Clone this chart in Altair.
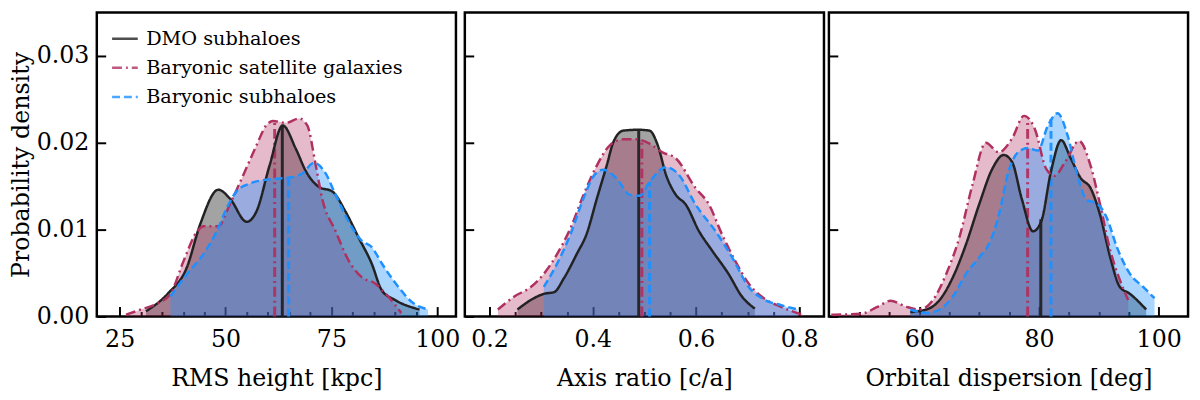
import altair as alt
import pandas as pd
import json

FONT = "DejaVu Serif"
SERIES = ["DMO subhaloes", "Baryonic satellite galaxies", "Baryonic subhaloes"]
LINE_COLORS = ["#222222", "#b03060", "#1e90ff"]
FILL_COLORS = ["#000000", "#b03060", "#1e90ff"]
FILL_OPACITY = [0.36, 0.33, 0.38]
DASHES = [[1, 0], [10, 4, 2, 4], [8, 4]]

# ---------------- Panel 1: RMS height [kpc] ----------------
dmo_rms_x = [31.2, 36.3, 40.9, 44.0, 48.3, 51.0, 55.0, 57.3, 60.4, 63.5, 66.6, 69.0, 72.1, 75.2, 78.3, 81.4, 84.5, 86.9, 90.0, 95.8]
dmo_rms_y = [0.0006, 0.0026, 0.0057, 0.0106, 0.0146, 0.0136, 0.0109, 0.0121, 0.0174, 0.0220, 0.0193, 0.0167, 0.0149, 0.0144, 0.0121, 0.0091, 0.0061, 0.0030, 0.0019, 0.0008]
sat_rms_x = [26.5, 30.0, 33.9, 37.0, 40.1, 43.3, 44.8, 48.3, 51.0, 54.2, 57.3, 59.6, 61.2, 64.3, 67.4, 69.3, 71.3, 72.8, 76.0, 79.1, 82.2, 85.3, 88.4, 91.5]
sat_rms_y = [0.0002, 0.0008, 0.0015, 0.0026, 0.0064, 0.0098, 0.0104, 0.0104, 0.0129, 0.0163, 0.0197, 0.0220, 0.0225, 0.0223, 0.0228, 0.0220, 0.0174, 0.0136, 0.0098, 0.0064, 0.0045, 0.0038, 0.0023, 0.0004]
bar_rms_x = [37.0, 40.9, 44.8, 47.9, 50.3, 52.6, 55.7, 60.4, 65.1, 68.2, 70.9, 73.6, 76.0, 79.9, 82.2, 84.5, 86.9, 90.8, 93.9, 97.8]
bar_rms_y = [0.0023, 0.0049, 0.0072, 0.0098, 0.0125, 0.0144, 0.0153, 0.0158, 0.0160, 0.0165, 0.0177, 0.0165, 0.0140, 0.0102, 0.0087, 0.0080, 0.0061, 0.0034, 0.0017, 0.0008]
rms_median_x = [63.4, 61.6, 64.9]
rms_median_h = [0.0220, 0.0224, 0.0160]

# ---------------- Panel 2: Axis ratio [c/a] ----------------
dmo_ca_x = [0.254, 0.280, 0.305, 0.325, 0.344, 0.369, 0.388, 0.408, 0.427, 0.440, 0.459, 0.488, 0.510, 0.526, 0.542, 0.561, 0.580, 0.606, 0.631, 0.663, 0.689, 0.714]
dmo_ca_y = [0.0008, 0.0019, 0.0026, 0.0028, 0.0044, 0.0072, 0.0095, 0.0136, 0.0174, 0.0201, 0.0214, 0.0215, 0.0214, 0.0197, 0.0163, 0.0140, 0.0129, 0.0098, 0.0076, 0.0049, 0.0023, 0.0009]
sat_ca_x = [0.216, 0.248, 0.280, 0.305, 0.331, 0.357, 0.382, 0.408, 0.433, 0.459, 0.484, 0.510, 0.535, 0.561, 0.599, 0.625, 0.650, 0.676, 0.702, 0.727, 0.765, 0.807]
sat_ca_y = [0.0008, 0.0023, 0.0034, 0.0049, 0.0072, 0.0102, 0.0140, 0.0174, 0.0197, 0.0204, 0.0204, 0.0199, 0.0189, 0.0182, 0.0148, 0.0129, 0.0095, 0.0064, 0.0038, 0.0023, 0.0011, 0.0002]
bar_ca_x = [0.305, 0.331, 0.357, 0.382, 0.401, 0.420, 0.446, 0.472, 0.491, 0.510, 0.542, 0.567, 0.599, 0.638, 0.670, 0.702, 0.733, 0.765, 0.797]
bar_ca_y = [0.0034, 0.0061, 0.0095, 0.0136, 0.0161, 0.0169, 0.0159, 0.0140, 0.0139, 0.0155, 0.0172, 0.0163, 0.0129, 0.0098, 0.0068, 0.0034, 0.0019, 0.0013, 0.0008]
ca_median_x = [0.489, 0.495, 0.510]
ca_median_h = [0.0215, 0.0204, 0.0155]

# ---------------- Panel 3: Orbital dispersion [deg] ----------------
dmo_orb_x = [58.5, 61.2, 63.4, 65.6, 67.8, 70.0, 72.2, 74.1, 75.5, 77.1, 79.0, 80.4, 82.0, 83.7, 85.3, 87.0, 88.6, 90.2, 91.9, 93.5, 95.2, 97.9]
dmo_orb_y = [0.0005, 0.0008, 0.0019, 0.0045, 0.0083, 0.0129, 0.0170, 0.0186, 0.0178, 0.0136, 0.0098, 0.0110, 0.0167, 0.0203, 0.0182, 0.0159, 0.0148, 0.0117, 0.0068, 0.0034, 0.0026, 0.0008]
sat_orb_x = [45.3, 50.2, 53.0, 55.2, 57.9, 60.1, 62.3, 64.5, 66.7, 68.9, 71.1, 73.3, 75.5, 77.5, 79.3, 81.2, 82.6, 84.2, 86.7, 88.6, 90.2, 91.9, 93.5, 94.9]
sat_orb_y = [0.0002, 0.0003, 0.0011, 0.0018, 0.0011, 0.0008, 0.0019, 0.0049, 0.0091, 0.0152, 0.0200, 0.0189, 0.0205, 0.0231, 0.0216, 0.0170, 0.0162, 0.0176, 0.0202, 0.0174, 0.0129, 0.0076, 0.0042, 0.0019]
bar_orb_x = [58.5, 61.2, 63.4, 65.6, 67.8, 70.0, 71.6, 73.3, 74.9, 76.5, 78.2, 79.8, 81.5, 83.1, 84.8, 86.4, 88.0, 89.7, 91.3, 93.0, 95.2, 97.4, 99.3]
bar_orb_y = [0.0008, 0.0004, 0.0008, 0.0023, 0.0049, 0.0068, 0.0083, 0.0117, 0.0167, 0.0189, 0.0194, 0.0191, 0.0220, 0.0234, 0.0208, 0.0163, 0.0134, 0.0130, 0.0114, 0.0080, 0.0049, 0.0034, 0.0021]
orb_median_x = [80.3, 78.1, 82.0]
orb_median_h = [0.0112, 0.0226, 0.0228]

# ---------------- axes ----------------
y_domain = [0, 0.035]
y_ticks = [0.0, 0.01, 0.02, 0.03]

rms_domain = [19.6, 104.4]
rms_ticks = [25, 30, 35, 40, 45, 50, 55, 60, 65, 70, 75, 80, 85, 90, 95, 100]
rms_major = [25, 50, 75, 100]

ca_domain = [0.152, 0.848]
ca_ticks = [0.2, 0.25, 0.3, 0.35, 0.4, 0.45, 0.5, 0.55, 0.6, 0.65, 0.7, 0.75, 0.8]
ca_major = [0.2, 0.4, 0.6, 0.8]

orb_domain = [44.9, 104.9]
orb_ticks = [50, 55, 60, 65, 70, 75, 80, 85, 90, 95, 100]
orb_major = [60, 80, 100]

W, H = 364, 308
LABEL_SIZE = 24
TITLE_SIZE = 24
LEGEND_SIZE = 19.5


def x_axis(ticks, majors, fmt, title):
    maj = json.dumps(majors)
    return alt.Axis(
        values=ticks,
        format=fmt,
        title=title,
        labelExpr=f"indexof({maj}, datum.value) >= 0 ? datum.label : ''",
        tickSize={"expr": f"indexof({maj}, datum.value) >= 0 ? -10 : -5"},
        labelPadding=21,
        labelFlush=False,
        labelOverlap=False,
        titlePadding=11,
        labelFont=FONT,
        titleFont=FONT,
    )


def y_axis(first):
    if first:
        return alt.Axis(values=y_ticks, format=".2f", title="Probability density",
                        tickSize={"expr": "-9"}, labelPadding=17, titlePadding=3,
                        labelOverlap=False, labelFlush=False,
                        labelFont=FONT, titleFont=FONT)
    return alt.Axis(values=y_ticks, labels=False, title=None, tickSize={"expr": "-9"},
                    labelOverlap=False)


def panel(xs, ys, med_x, med_h, domain, ticks, majors, fmt, title, first):
    xenc = alt.X("x:Q", scale=alt.Scale(domain=domain, nice=False, zero=False),
                 axis=x_axis(ticks, majors, fmt, title))
    yenc = alt.Y("y:Q", scale=alt.Scale(domain=y_domain, nice=False), axis=y_axis(first))
    frames = []
    for name, xv, yv in zip(SERIES, xs, ys):
        frames.append(pd.DataFrame({"x": xv, "y": yv, "series": name}))
    layers = []
    for i, df in enumerate(frames):
        layers.append(
            alt.Chart(df).mark_area(interpolate="monotone", color=FILL_COLORS[i],
                                    opacity=FILL_OPACITY[i], clip=True)
            .encode(x=xenc, y=yenc, y2=alt.datum(0))
        )
    for i in range(3):
        mdf = pd.DataFrame({"x": [med_x[i]], "y": [0.0], "y2": [med_h[i]]})
        layers.append(
            alt.Chart(mdf).mark_rule(color=LINE_COLORS[i], strokeWidth=3,
                                     strokeDash=DASHES[i], opacity=0.95)
            .encode(x=xenc, y=yenc, y2="y2:Q")
        )
    all_df = pd.concat(frames, ignore_index=True)
    if first:
        leg = alt.Legend(orient="none", legendX=14, legendY=12, title=None,
                         symbolType="stroke", symbolSize=676, symbolStrokeWidth=2.5,
                         symbolOpacity=0.8, labelFont=FONT, labelFontSize=LEGEND_SIZE,
                         labelColor="black", labelOffset=7, rowPadding=5.5,
                         labelLimit=0, padding=0)
    else:
        leg = None
    layers.append(
        alt.Chart(all_df).mark_line(interpolate="monotone", strokeWidth=2.5, clip=True)
        .encode(
            x=xenc, y=yenc,
            color=alt.Color("series:N", scale=alt.Scale(domain=SERIES, range=LINE_COLORS), legend=leg),
            strokeDash=alt.StrokeDash("series:N", scale=alt.Scale(domain=SERIES, range=DASHES), legend=leg),
            order=alt.Order("order:Q"),
        ).transform_calculate(order=f"indexof({json.dumps(SERIES)}, datum.series)")
    )
    return alt.layer(*layers).properties(width=W, height=H)


p1 = panel([dmo_rms_x, sat_rms_x, bar_rms_x], [dmo_rms_y, sat_rms_y, bar_rms_y],
           rms_median_x, rms_median_h, rms_domain, rms_ticks, rms_major, "d",
           "RMS height [kpc]", True)
p2 = panel([dmo_ca_x, sat_ca_x, bar_ca_x], [dmo_ca_y, sat_ca_y, bar_ca_y],
           ca_median_x, ca_median_h, ca_domain, ca_ticks, ca_major, ".1f",
           "Axis ratio [c/a]", False)
p3 = panel([dmo_orb_x, sat_orb_x, bar_orb_x], [dmo_orb_y, sat_orb_y, bar_orb_y],
           orb_median_x, orb_median_h, orb_domain, orb_ticks, orb_major, "d",
           "Orbital dispersion [deg]", False)

chart = (
    alt.hconcat(p1, p2, p3, spacing=0)
    .resolve_legend(color="independent", strokeDash="independent")
    .properties(padding={"left": 0, "top": 0, "right": 2, "bottom": 0}, background="white")
    .configure(font=FONT)
    .configure_view(stroke="black", strokeWidth=2.5)
    .configure_axis(labelFont=FONT, titleFont=FONT, labelFontSize=LABEL_SIZE,
                    titleFontSize=TITLE_SIZE,
                    titleFontWeight="normal", labelColor="black", titleColor="black",
                    tickColor="black", tickWidth=2, domain=False, grid=False)
    .configure_legend(labelFont=FONT)
)

chart.save("out.html", embed_options={"renderer": "svg", "actions": False})
